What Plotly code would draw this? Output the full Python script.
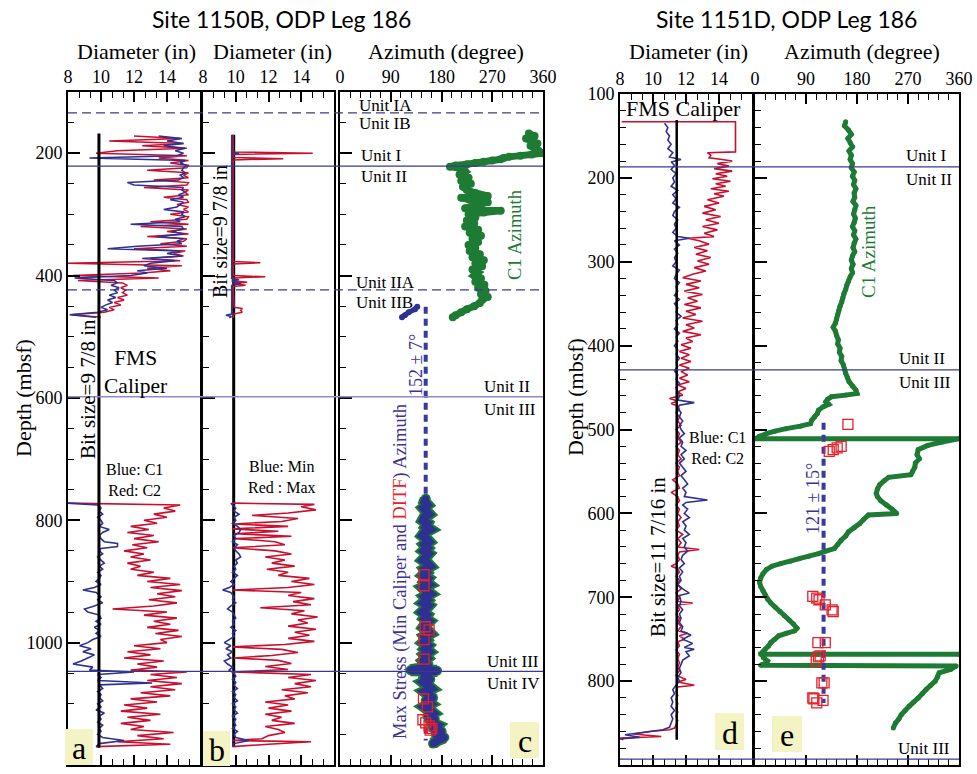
import plotly.graph_objects as go

W, H = 977, 774
SERIF = "Liberation Serif"
SANS = "Lato"
RED = "#c8102e"
BLUE = "#2e3192"
GREEN = "#1e7b34"
NAVY_TXT = "#3d3392"
UNIT_LINE = "#3a3a8c"
SQ_RED = "#e8202a"

# ---------------- Site 1150B data (depth mbsf, value) ----------------
BIT_1150 = 9.875
A_UP_C2 = [(172,12.0),(176,14.8),(180,10.5),(184,15.0),(188,12.5),(192,15.2),(196,11.0),(200,9.7),(204,15.2),(208,13.5),
           (212,15.3),(216,14.2),(220,15.3),(224,15.2),(228,12.8),(232,15.3),(236,15.0),(240,15.3),(244,13.2),(248,15.3),
           (252,15.2),(256,12.6),(260,15.3),(264,15.1),(268,15.3),(272,13.8),(276,15.2),(280,15.3),(284,14.6),(288,15.3),
           (292,15.0),(296,15.3),(300,14.2),(304,15.3),(308,15.2),(312,13.0),(316,15.3),(320,12.4),(324,15.2),(328,14.0),
           (332,15.3),(336,12.8),(340,15.2),(344,15.0),(348,13.6),(352,15.2),(356,12.0),(360,15.1),(364,14.4),(368,15.0),
           (372,13.0),(376,14.8),(380,8.0),(384,14.9),(388,12.8),(392,14.2),(396,12.5),(400,8.3),(404,13.5),(408,8.6),
           (412,11.3),(416,11.6),(420,11.2),(424,11.5),(428,11.3),(432,11.6),(436,11.0),(440,11.4),(444,10.8),(448,11.2),
           (452,10.5),(456,10.8),(460,10.2),(464,8.2),(468,10.0)]
A_UP_C1 = [(172,13.5),(176,14.9),(180,14.0),(184,15.0),(188,13.8),(192,15.1),(196,14.5),(200,15.0),(204,14.6),(208,9.3),
           (212,15.1),(216,14.8),(220,15.2),(224,15.0),(228,14.9),(232,15.1),(236,14.8),(240,15.0),(244,14.7),(248,11.6),
           (252,12.0),(256,15.0),(260,14.9),(264,15.1),(268,14.7),(272,15.0),(276,14.2),(280,15.0),(284,14.8),(288,14.6),
           (292,13.8),(296,15.0),(300,14.9),(304,15.1),(308,14.5),(312,14.8),(316,11.8),(320,14.9),(324,15.0),(328,14.3),
           (332,15.0),(336,13.4),(340,15.0),(344,14.6),(348,14.9),(352,12.2),(356,10.4),(360,14.8),(364,14.0),(368,14.9),
           (372,12.5),(376,14.5),(380,13.0),(384,12.6),(388,14.0),(392,12.2),(396,12.8),(400,11.8),(404,8.4),(408,10.8),
           (412,11.0),(416,10.6),(420,11.1),(424,10.8),(428,11.0),(432,10.5),(436,10.9),(440,10.4),(444,10.7),(448,10.3),
           (452,10.0),(456,10.4),(460,9.8),(464,8.1),(468,9.7)]
A_LO_C2 = [(772,8.0),(775,14.8),(780,13.8),(785,14.5),(790,13.2),(795,14.0),(800,12.6),(805,13.4),(810,11.8),(815,12.9),
           (820,11.6),(825,13.2),(830,12.0),(835,13.5),(840,11.9),(845,12.8),(850,11.4),(855,12.6),(860,11.8),(865,13.0),
           (870,11.6),(875,12.4),(880,11.8),(885,13.2),(890,12.2),(895,14.2),(900,12.8),(905,14.8),(910,13.0),(915,14.9),
           (920,13.4),(925,14.5),(930,12.9),(935,14.6),(940,13.2),(945,10.7),(950,14.0),(955,12.6),(960,14.6),(965,13.2),
           (970,14.2),(975,12.8),(980,14.7),(985,13.3),(990,14.9),(995,13.6),(1000,14.0),(1005,12.0),(1010,13.6),(1015,11.6),
           (1020,13.0),(1025,11.4),(1030,13.8),(1035,12.2),(1040,13.4),(1045,11.8),(1048,15.2),(1052,13.0),(1057,14.6),(1062,12.8),
           (1067,14.9),(1072,13.0),(1077,14.5),(1082,12.4),(1087,14.2),(1092,11.8),(1097,13.4),(1102,11.4),(1107,12.8),(1112,11.2),
           (1117,13.6),(1122,11.6),(1127,13.0),(1132,11.2),(1137,12.6),(1142,11.8),(1147,14.4),(1152,12.2),(1157,13.8),(1162,11.0),
           (1166,14.2),(1170,9.7)]
A_LO_C1 = [(772,8.0),(775,9.8),(780,10.0),(785,9.9),(790,10.1),(795,9.8),(800,10.0),(805,10.1),(810,9.9),(815,10.5),
           (820,10.1),(825,9.9),(830,10.0),(835,10.2),(838,11.0),(843,11.0),(846,10.0),(850,9.9),(855,10.1),(860,9.8),
           (865,10.0),(870,10.2),(875,9.9),(880,10.1),(885,9.8),(890,10.0),(895,9.9),(900,9.7),(905,10.0),(910,9.6),
           (914,8.9),(918,9.7),(925,10.0),(930,9.8),(935,10.1),(940,9.6),(945,9.0),(950,9.2),(955,9.9),(960,10.0),
           (965,9.7),(970,10.0),(975,9.6),(980,9.9),(985,9.7),(990,10.0),(995,9.5),(1000,9.2),(1005,8.7),(1010,9.4),
           (1015,8.9),(1020,9.6),(1025,9.2),(1030,8.8),(1035,8.3),(1040,9.5),(1045,9.3),(1048,12.0),(1052,9.8),(1057,10.0),
           (1062,9.8),(1066,13.1),(1069,9.9),(1075,10.1),(1080,9.8),(1085,10.0),(1090,9.9),(1095,10.1),(1100,9.8),(1105,10.0),
           (1110,9.7),(1115,10.2),(1120,9.9),(1125,10.0),(1130,9.8),(1135,10.1),(1140,9.9),(1145,10.0),(1150,9.8),(1155,10.1),
           (1160,11.4),(1165,9.9),(1170,9.7)]

B_UP_MAX = [(170,9.85),(198,9.85),(200,14.7),(202,9.85),(207,9.85),(209,12.9),(211,9.85),(377,9.85),(379,11.5),(381,9.85),
            (400,9.85),(402,11.8),(404,9.85),(409,9.9),(411,10.7),(413,9.85),(416,10.6),(418,9.85),(452,9.9),(454,10.4),
            (457,10.3),(460,10.4),(463,9.85),(469,9.85)]
B_UP_MIN = [(170,9.75),(199,9.75),(200,10.2),(201,9.75),(405,9.75),(407,10.2),(409,9.75),(414,10.3),(416,9.75),(463,9.75),
            (465,9.4),(467,9.75),(469,9.6)]
B_LO_MAX = [(772,9.8),(774,14.8),(778,14.0),(783,14.9),(788,13.2),(792,11.0),(797,13.8),(802,12.8),(806,9.9),(810,13.2),
            (814,9.8),(818,12.6),(822,9.9),(826,13.4),(830,10.0),(835,12.4),(840,13.0),(845,9.8),(850,12.4),(855,13.4),
            (860,11.8),(865,13.0),(870,12.2),(875,13.6),(880,11.9),(885,13.2),(890,12.6),(895,14.5),(900,13.4),(905,14.8),
            (910,13.2),(914,9.8),(918,14.0),(923,13.2),(928,14.8),(933,13.5),(938,14.6),(943,11.5),(948,14.2),(953,13.4),
            (958,15.0),(963,13.8),(968,14.4),(973,13.2),(978,14.9),(983,13.6),(988,14.5),(993,13.2),(998,14.8),(1003,13.0),
            (1007,9.8),(1011,12.8),(1016,13.8),(1021,12.2),(1025,9.9),(1029,12.6),(1034,13.4),(1039,11.8),(1044,13.2),(1048,9.8),
            (1052,14.6),(1057,13.2),(1062,14.9),(1067,13.6),(1072,14.6),(1077,12.8),(1082,14.4),(1087,13.0),(1092,13.6),(1097,11.8),
            (1102,13.2),(1107,12.0),(1112,13.4),(1117,11.8),(1122,12.8),(1127,12.2),(1132,13.6),(1137,11.8),(1142,12.6),(1147,13.0),
            (1152,12.0),(1157,11.6),(1160,9.8),(1162,14.6),(1166,12.0),(1170,9.8)]
B_LO_MIN = [(772,9.7),(775,9.8),(780,10.0),(785,9.9),(790,10.2),(795,9.9),(800,10.0),(805,9.8),(810,10.1),(815,10.3),
            (820,10.2),(825,9.9),(830,10.0),(835,9.8),(840,10.1),(845,9.9),(850,10.0),(855,10.2),(860,10.3),(865,10.0),
            (870,10.1),(875,9.9),(880,10.0),(885,9.8),(890,10.1),(895,9.9),(900,9.7),(905,9.9),(910,9.6),(914,9.2),
            (918,9.7),(925,9.9),(930,9.8),(935,10.0),(940,9.7),(945,9.5),(950,9.8),(955,9.9),(960,10.0),(965,9.8),
            (970,9.9),(975,9.7),(980,10.0),(985,9.8),(990,9.9),(995,9.6),(1000,9.3),(1005,9.7),(1010,9.4),(1015,9.8),
            (1020,9.5),(1025,9.7),(1030,9.3),(1035,9.5),(1040,9.8),(1045,9.6),(1050,9.9),(1055,10.0),(1060,9.8),(1065,10.0),
            (1070,9.9),(1075,10.1),(1080,9.8),(1085,10.0),(1090,9.9),(1095,10.1),(1100,9.8),(1105,10.0),(1110,9.9),(1115,10.1),
            (1120,9.8),(1125,10.0),(1130,9.9),(1135,10.0),(1140,9.8),(1145,10.1),(1150,9.9),(1155,10.0),(1160,10.8),(1165,9.9),
            (1170,9.8)]

C_C1_AZ = [(168,335),(172,345),(176,330),(180,340),(184,350),(188,338),(192,345),(196,352),(200,358),(202,340),
           (204,320),(206,300),(208,290),(210,285),(212,270),(214,255),(216,240),(218,225),(220,205),(222,195),
           (225,215),(230,222),(235,212),(240,228),(245,215),(250,232),(255,218),(260,225),(265,240),(270,262),
           (273,215),(276,230),(280,262),(285,245),(290,222),(294,285),(297,255),(300,228),(305,240),(310,225),
           (315,238),(320,222),(325,245),(330,230),(335,250),(340,235),(345,245),(350,228),(355,240),(360,230),
           (365,248),(370,235),(375,255),(380,240),(385,252),(390,235),(395,245),(400,238),(405,250),(410,240),
           (415,256),(420,245),(425,258),(430,250),(435,262),(440,252),(445,248),(450,238),(455,225),(460,215),
           (465,205),(468,200)]
C_STRESS_UP = [(451,137),(455,133),(460,122),(465,115),(468,110)]
C_STRESS_LO = [(765,152),(770,150),(775,155),(780,148),(785,153),(790,158),(795,150),(800,147),(805,155),(810,152),
               (815,160),(820,150),(825,146),(830,153),(835,158),(840,150),(845,155),(850,149),(855,157),(860,152),
               (865,147),(870,155),(875,160),(880,150),(885,154),(890,148),(895,156),(900,151),(905,158),(910,147),
               (915,153),(920,160),(925,150),(930,155),(935,148),(940,157),(945,152),(950,146),(955,154),(960,150),
               (965,158),(970,152),(975,148),(980,155),(985,160),(990,150),(995,154),(1000,148),(1005,156),(1010,151),
               (1015,158),(1020,150),(1025,155),(1030,148),(1035,153),(1040,158),(1045,125),(1046,172),(1048,152),(1055,150),
               (1060,160),(1065,148),(1070,155),(1075,162),(1080,150),(1085,157),(1090,165),(1095,152),(1100,160),(1105,150),
               (1110,158),(1115,165),(1120,155),(1125,168),(1130,160),(1135,172),(1140,165),(1145,180),(1150,170),(1155,185),
               (1160,172),(1165,165)]
C_DITF = [(889,149),(907,149),(974,151),(979,158),(995,149),(1027,149),(1092,148),(1105,155),(1126,147),(1131,152),
          (1136,158),(1140,163),(1143,160)]
C_MEAN_AZ = 152
C_MEAN_RANGE = (451, 1160)
UNITS_1150_SOLID = [221, 1047]
UNITS_1150_LIGHT = [598]
UNITS_1150_DASH = [134, 423.5]

# ---------------- Site 1151D data ----------------
BIT_1151 = 11.4375
D_C2 = [(133,8.1),(133,15.0),(150,15.0),(169,15.0),(170,13.3),(173,13.5),(176,13.4),(178,14.2),(180,14.8),(183,13.9),
        (186,14.6),(189,13.7),(192,14.8),(195,13.8),(198,14.5),(201,13.6),(204,14.7),(207,13.8),(210,14.4),(213,13.5),
        (216,14.6),(219,13.7),(222,14.3),(226,13.3),(230,14.0),(234,13.1),(238,13.8),(242,13.0),(246,14.1),(250,13.2),
        (254,14.0),(258,13.0),(262,13.9),(266,13.1),(270,13.7),(272,12.1),(275,12.8),(279,13.4),(283,12.5),(287,13.3),
        (291,12.6),(295,13.5),(299,12.7),(303,13.4),(307,12.5),(311,13.2),(315,12.4),(319,11.8),(323,12.9),(327,12.0),
        (331,12.8),(335,11.9),(339,13.0),(343,12.1),(347,12.7),(351,11.9),(355,12.9),(359,12.0),(363,12.6),(367,11.8),
        (371,13.0),(375,12.0),(379,12.5),(383,11.8),(387,12.9),(391,12.0),(395,12.4),(399,11.7),(403,12.3),(407,11.6),
        (411,12.2),(415,11.7),(419,12.3),(423,11.6),(427,12.2),(431,11.7),(435,12.1),(439,11.6),(443,12.2),(447,11.5),
        (451,12.0),(455,11.5),(459,11.8),(463,11.0),(466,11.5),(469,11.1),(472,11.5),(476,11.6),(480,11.4),(485,11.6),
        (490,11.5),(495,11.7),(500,11.4),(505,11.6),(510,11.5),(515,11.7),(520,11.4),(525,11.6),(530,11.5),(535,11.7),
        (540,11.4),(545,11.6),(550,11.5),(555,11.6),(560,11.2),(565,11.5),(570,11.6),(575,11.1),(580,11.5),(585,11.6),
        (590,11.4),(595,11.6),(600,11.5),(605,11.7),(610,11.5),(615,11.6),(620,11.4),(625,11.8),(630,11.5),(635,11.7),
        (640,11.5),(643,12.8),(646,11.6),(650,11.5),(655,11.6),(660,11.4),(663,11.1),(666,11.5),(670,11.6),(675,11.4),
        (680,11.6),(685,11.5),(690,11.7),(695,11.4),(700,11.6),(705,11.5),(707,12.4),(709,11.5),(715,11.6),(720,11.4),
        (725,11.6),(730,11.5),(735,11.7),(740,11.5),(743,12.1),(746,11.6),(750,11.9),(753,11.5),(758,11.6),(763,11.4),
        (768,11.6),(773,11.5),(778,11.6),(783,11.5),(788,11.6),(793,11.4),(798,12.0),(801,11.5),(805,12.5),(807,11.5),
        (812,11.4),(817,11.5),(822,11.4),(827,11.5),(832,11.4),(837,11.5),(842,11.4),(847,11.5),(852,11.4),(856,11.3),
        (858,11.0),(860,9.8),(863,8.8),(866,10.5),(868,8.0),(870,8.2)]
D_C1 = [(135,10.7),(140,10.9),(145,10.8),(150,11.0),(155,10.9),(160,11.1),(165,10.9),(170,11.2),(175,11.0),(178,11.7),
        (181,11.1),(185,11.3),(190,11.1),(195,11.4),(200,11.2),(205,11.3),(210,11.1),(215,11.5),(220,11.2),(225,11.4),
        (230,11.2),(235,11.6),(240,11.3),(245,11.2),(250,11.5),(255,11.3),(260,11.4),(265,11.2),(270,11.5),(272,12.2),
        (275,11.3),(280,11.6),(285,11.3),(290,11.5),(295,11.3),(300,11.4),(305,11.2),(310,11.6),(315,11.4),(320,11.3),
        (325,11.6),(330,11.4),(335,11.5),(340,11.3),(345,11.6),(350,11.3),(355,11.5),(360,11.4),(365,11.7),(370,11.4),
        (375,11.5),(380,11.3),(385,11.6),(390,11.4),(395,11.5),(400,11.3),(405,11.5),(410,11.4),(415,11.6),(420,11.4),
        (425,11.5),(430,11.3),(435,11.5),(440,11.4),(445,11.6),(450,11.4),(455,11.5),(460,11.6),(465,11.5),(468,12.5),
        (471,11.6),(475,11.5),(480,11.7),(485,11.6),(490,11.8),(495,11.6),(500,11.7),(505,11.9),(510,11.6),(515,11.8),
        (520,11.7),(525,12.0),(530,11.7),(535,11.9),(540,11.6),(545,11.8),(550,12.0),(555,11.7),(560,11.9),(565,12.1),
        (570,11.8),(575,12.0),(580,11.9),(584,13.3),(587,12.0),(590,11.8),(595,12.1),(600,11.9),(605,12.2),(610,11.8),
        (615,12.0),(620,11.9),(625,12.2),(630,11.8),(635,12.0),(640,11.9),(645,12.1),(650,11.8),(655,11.7),(660,11.9),
        (665,11.6),(670,11.8),(675,11.6),(680,11.7),(685,11.5),(690,11.8),(695,12.2),(698,11.6),(705,11.7),(710,11.6),
        (715,11.8),(720,11.6),(725,11.7),(730,11.6),(735,11.8),(740,11.7),(745,12.3),(750,11.8),(755,12.4),(760,11.9),
        (762,12.5),(765,12.0),(770,12.2),(775,11.8),(780,11.7),(785,11.6),(790,11.7),(795,11.5),(800,11.6),(805,11.4),
        (810,11.2),(815,11.3),(820,11.1),(825,11.2),(830,11.1),(835,11.3),(840,11.1),(845,11.2),(850,11.1),(855,11.0),
        (858,10.6),(861,9.5),(864,8.3),(867,9.2),(869,8.0)]
E_C1_AZ = [(133,160),(138,158),(143,165),(148,170),(153,164),(158,168),(163,172),(168,166),(173,170),(178,168),
           (183,172),(188,170),(193,175),(198,172),(203,176),(208,174),(213,178),(218,175),(223,176),(228,173),
           (233,178),(238,176),(243,174),(248,177),(253,175),(258,172),(263,176),(268,174),(273,178),(278,175),
           (283,173),(288,176),(293,172),(298,170),(303,173),(308,170),(313,172),(318,168),(323,165),(328,162),
           (333,160),(338,157),(343,155),(348,153),(353,150),(358,148),(363,146),(368,144),(373,142),(378,138),
           (383,142),(388,144),(393,147),(398,146),(403,150),(408,149),(413,153),(418,152),(423,156),(428,158),
           (433,160),(438,163),(443,166),(448,172),(453,178),(457,180),(459,160),(461,135),(464,128),(467,125),
           (470,130),(473,120),(477,112),(481,110),(485,105),(489,100),(493,98),(496,80),(499,55),(502,35),
           (505,20),(508,8),(511,1),(511,360),(515,330),(519,305),(524,288),(530,286),(535,290),(540,283),
           (545,282),(550,278),(554,275),(557,236),(561,228),(566,220),(571,216),(576,214),(580,216),(585,222),
           (590,232),(595,242),(600,250),(602,200),(607,192),(612,185),(617,175),(622,165),(627,160),(632,152),
           (637,146),(642,140),(645,125),(648,112),(651,95),(654,78),(657,62),(660,45),(663,30),(667,20),
           (672,14),(677,10),(682,8),(687,10),(692,14),(697,18),(702,22),(707,28),(712,36),(717,44),
           (722,52),(727,60),(732,68),(737,74),(740,70),(743,55),(746,42),(750,35),(754,28),(758,24),
           (762,18),(765,14),(768,10),(768,360),(768,12),(772,15),(776,22),(779,18),(781,10),(782,355),
           (786,345),(790,325),(795,322),(800,318),(805,310),(810,302),(815,295),(820,288),(825,280),(830,272),
           (835,265),(840,258),(845,254),(850,248),(856,244)]
E_DITF = [(494,164),(520,152),(522,145),(524,138),(526,131),(699,102),(701,109),(703,113),(709,124),(715,136),
          (717,138),(754,111),(754,124),(770,115),(771,112),(776,108),(802,118),(802,122),(820,102),(821,104),
          (823,120),(826,109)]
E_MEAN_AZ = 121
E_MEAN_RANGE = (492, 826)
UNITS_1151 = [187, 429, 893]

# ---------------- helpers ----------------
def fx(p):
    return p / W

def fy(p):
    return 1 - p / H

fig = go.Figure()

def line_trace(pairs, ax, color, width, mode="lines", msize=0, dash=None, opacity=1.0):
    ys = [p[0] for p in pairs]
    xs = [p[1] for p in pairs]
    fig.add_trace(go.Scatter(
        x=xs, y=ys, xaxis="x" + ax, yaxis="y" + ax, mode=mode,
        line=dict(color=color, width=width, dash=dash, simplify=False),
        marker=dict(color=color, size=msize) if msize else None,
        opacity=opacity, hoverinfo="skip", showlegend=False))

def vline(value, d0, d1, ax, color, width, dash=None):
    line_trace([(d0, value), (d1, value)], ax, color, width, dash=dash)

# panel a
line_trace(A_UP_C2, "", RED, 1.5)
line_trace(A_UP_C1, "", BLUE, 1.5)
line_trace(A_LO_C2, "", RED, 1.6)
line_trace(A_LO_C1, "", BLUE, 1.6)
vline(BIT_1150, 168, 1172, "", "black", 3)
# panel b
vline(BIT_1150, 170, 1170, "2", "black", 3)
line_trace(B_UP_MAX, "2", RED, 1.5)
line_trace(B_UP_MIN, "2", BLUE, 1.5)
line_trace(B_LO_MAX, "2", RED, 1.6)
line_trace(B_LO_MIN, "2", BLUE, 1.6)
# panel c
vline(C_MEAN_AZ, C_MEAN_RANGE[0], C_MEAN_RANGE[1], "3", "#3a3a9a", 4, dash="7px,5px")
line_trace(C_C1_AZ, "3", GREEN, 7, mode="lines+markers", msize=8)
line_trace(C_STRESS_UP, "3", BLUE, 5, mode="lines+markers", msize=6)
line_trace(C_STRESS_LO, "3", GREEN, 12, mode="lines+markers", msize=10)
line_trace(C_STRESS_LO, "3", BLUE, 8, mode="lines+markers", msize=7)
fig.add_trace(go.Scatter(x=[p[1] for p in C_DITF], y=[p[0] for p in C_DITF], xaxis="x3", yaxis="y3",
                         mode="markers", marker=dict(symbol="square-open", size=10, color=SQ_RED, line=dict(width=1.3)),
                         hoverinfo="skip", showlegend=False))
# panel d
line_trace(D_C2, "4", RED, 1.6)
line_trace(D_C1, "4", BLUE, 1.6)
vline(BIT_1151, 131, 870, "4", "black", 2.5)
# panel e
line_trace(E_C1_AZ, "5", GREEN, 5, mode="lines+markers", msize=5)
vline(E_MEAN_AZ, E_MEAN_RANGE[0], E_MEAN_RANGE[1], "5", "#3a3a9a", 4, dash="7px,5px")
fig.add_trace(go.Scatter(x=[p[1] for p in E_DITF], y=[p[0] for p in E_DITF], xaxis="x5", yaxis="y5",
                         mode="markers", marker=dict(symbol="square-open", size=10, color=SQ_RED, line=dict(width=1.3)),
                         hoverinfo="skip", showlegend=False))

# ---------------- axes ----------------
TICKFONT = dict(family=SERIF, size=18, color="black")

def xax(dom, rng, vals, texts, mdt, anchor):
    return dict(domain=[fx(dom[0]), fx(dom[1])], range=rng, side="top", anchor=anchor, automargin=False,
                showline=True, linewidth=2, linecolor="black", mirror="ticks",
                ticks="inside", ticklen=10, tickwidth=1.5, tickcolor="black",
                tickmode="array", tickvals=vals, ticktext=texts, tickfont=TICKFONT,
                showgrid=False, zeroline=False, fixedrange=True, ticklabelstandoff=0,
                minor=dict(ticks="inside", ticklen=6, tickwidth=1.2, tickcolor="black",
                           dtick=mdt, tick0=rng[0], showgrid=False))

def yax(top, rng, vals, mdt, anchor, labels):
    return dict(domain=[fy(765), fy(top)], range=rng, anchor=anchor, automargin=False,
                showline=True, linewidth=2, linecolor="black", mirror=True,
                ticks="inside", ticklen=12, tickwidth=1.5, tickcolor="black",
                tickmode="array", tickvals=vals, ticktext=[str(v) for v in vals],
                showticklabels=labels, tickfont=TICKFONT,
                showgrid=False, zeroline=False, fixedrange=True,
                minor=dict(ticks="inside", ticklen=6, tickwidth=1.2, tickcolor="black",
                           dtick=mdt, tick0=0, showgrid=False))

DIAM_VALS = [8, 10, 12, 14, 16]
DIAM_TEXT = ["8", "10", "12", "14", ""]
AZ_VALS = [0, 90, 180, 270, 360]
AZ_TEXT = ["0", "90", "180", "270", "360"]
DEPTH1_VALS = [200, 400, 600, 800, 1000, 1200]
DEPTH2_VALS = [100, 200, 300, 400, 500, 600, 700, 800, 900]

fig.update_layout(
    xaxis=xax((68, 200), [8, 16], DIAM_VALS, DIAM_TEXT, 2 / 3, "y"),
    xaxis2=xax((203, 334), [8, 16], DIAM_VALS, DIAM_TEXT, 2 / 3, "y2"),
    xaxis3=xax((340, 543), [0, 360], AZ_VALS, AZ_TEXT, 18, "y3"),
    xaxis4=xax((620, 752), [8, 16], DIAM_VALS, DIAM_TEXT, 2 / 3, "y4"),
    xaxis5=xax((755, 959), [0, 360], AZ_VALS, AZ_TEXT, 18, "y5"),
    yaxis=yax(92, [1200, 100], DEPTH1_VALS, 50, "x", True),
    yaxis2=yax(92, [1200, 100], DEPTH1_VALS, 50, "x2", False),
    yaxis3=yax(92, [1200, 100], DEPTH1_VALS, 50, "x3", False),
    yaxis4=yax(94, [900, 100], DEPTH2_VALS, 20, "x4", True),
    yaxis5=yax(94, [900, 100], DEPTH2_VALS, 20, "x5", False),
)

# ---------------- unit boundary lines ----------------
shapes = []
def hline(depth, yref, x0, x1, color, width, dash=None):
    shapes.append(dict(type="line", xref="paper", yref=yref, x0=fx(x0), x1=fx(x1), y0=depth, y1=depth,
                       line=dict(color=color, width=width, dash=dash), layer="above"))

for d in UNITS_1150_SOLID:
    hline(d, "y", 68, 543, UNIT_LINE, 1.2)
for d in UNITS_1150_LIGHT:
    hline(d, "y", 68, 543, "#8f8ac9", 1.6)
for d in UNITS_1150_DASH:
    hline(d, "y", 68, 543, UNIT_LINE, 1.2, dash="9px,5px")
for d in UNITS_1151:
    hline(d, "y4", 620, 959, UNIT_LINE, 1.2)

# panel letter boxes
BOXES = [("a", 65, 729, 93, 765), ("b", 203, 731, 230, 766), ("c", 510, 722, 539, 758),
         ("d", 715, 713, 744, 750), ("e", 772, 716, 802, 752)]
annotations = []
for letter, x0, y0, x1, y1 in BOXES:
    shapes.append(dict(type="rect", xref="paper", yref="paper", x0=fx(x0), x1=fx(x1), y0=fy(y1), y1=fy(y0),
                       fillcolor="#f3f3c4", line=dict(width=0), layer="above"))
    annotations.append(dict(text=letter, x=fx((x0 + x1) / 2), y=fy((y0 + y1) / 2 + 1), xref="paper", yref="paper",
                            showarrow=False, font=dict(family=SERIF, size=32, color="black"),
                            xanchor="center", yanchor="middle"))

def ann(text, x, y, size, color="black", angle=0, xanchor="center", family=SERIF):
    annotations.append(dict(text=text, x=fx(x), y=fy(y), xref="paper", yref="paper", showarrow=False,
                            font=dict(family=family, size=size, color=color), textangle=angle,
                            xanchor=xanchor, yanchor="middle", borderpad=0))

ann("Site 1150B, ODP Leg 186", 281, 19, 23, family=SANS)
ann("Site 1151D, ODP Leg 186", 786, 19, 23, family=SANS)
ann("Diameter (in)", 136, 51, 22)
ann("Diameter (in)", 272, 51, 22)
ann("Azimuth (degree)", 446, 51, 22)
ann("Diameter (in)", 688, 51, 22)
ann("Azimuth (degree)", 862, 51, 22)
ann("Depth (mbsf)", 23, 398, 22, angle=-90)
ann("Depth (mbsf)", 576, 397, 22, angle=-90)

ann("FMS<br>Caliper", 135, 372, 21.5)
ann("Bit size=9 7/8 in", 88, 389, 21, angle=-90)
ann("Blue: C1<br>Red: C2", 105, 480, 16, xanchor="left")
ann("Bit size=9 7/8 in", 220, 232, 20, angle=-90)
ann("Blue: Min<br>Red : Max", 247, 477, 16, xanchor="left")

ann("Unit IA", 358, 106, 17, xanchor="left")
ann("Unit IB", 358, 124, 17, xanchor="left")
ann("Unit I", 360, 155, 17, xanchor="left")
ann("Unit II", 360, 177, 17, xanchor="left")
ann("Unit IIA", 355, 282, 17, xanchor="left")
ann("Unit IIB", 355, 302, 17, xanchor="left")
ann("Unit II", 483, 386, 17, xanchor="left")
ann("Unit III", 483, 409, 17, xanchor="left")
ann("Unit III", 486, 661, 17, xanchor="left")
ann("Unit IV", 486, 683, 17, xanchor="left")
ann("C1 Azimuth", 515, 235, 18.5, color=GREEN, angle=-90)
ann("152 ± 7°", 416, 365, 18, color=NAVY_TXT, angle=-90)
ann('Max Stress (Min Caliper and <span style="color:#e8202a">DITF</span>) Azimuth', 400, 572, 18.5,
    color=NAVY_TXT, angle=-90)

ann("FMS Caliper", 683, 109, 22)
ann("Bit size=11 7/16 in", 658, 557, 21, angle=-90)
ann("Blue: C1<br>Red: C2", 688, 448, 16, xanchor="left")

ann("Unit I", 905, 155, 17, xanchor="left")
ann("Unit II", 905, 180, 17, xanchor="left")
ann("Unit II", 898, 358, 17, xanchor="left")
ann("Unit III", 898, 382, 17, xanchor="left")
ann("Unit III", 897, 748, 17, xanchor="left")
ann("C1 Azimuth", 868, 252, 19, color=GREEN, angle=-90)
ann("121 ± 15°", 813, 499, 18, color=NAVY_TXT, angle=-90)

fig.update_layout(
    width=W, height=H, margin=dict(l=0, r=0, t=0, b=0, pad=0, autoexpand=False),
    paper_bgcolor="white", plot_bgcolor="rgba(0,0,0,0)",
    showlegend=False, shapes=shapes, annotations=annotations,
)

fig.write_html("out.html", config={"displayModeBar": False},
               post_script="document.body.style.margin='0px';document.body.style.padding='0px';")
